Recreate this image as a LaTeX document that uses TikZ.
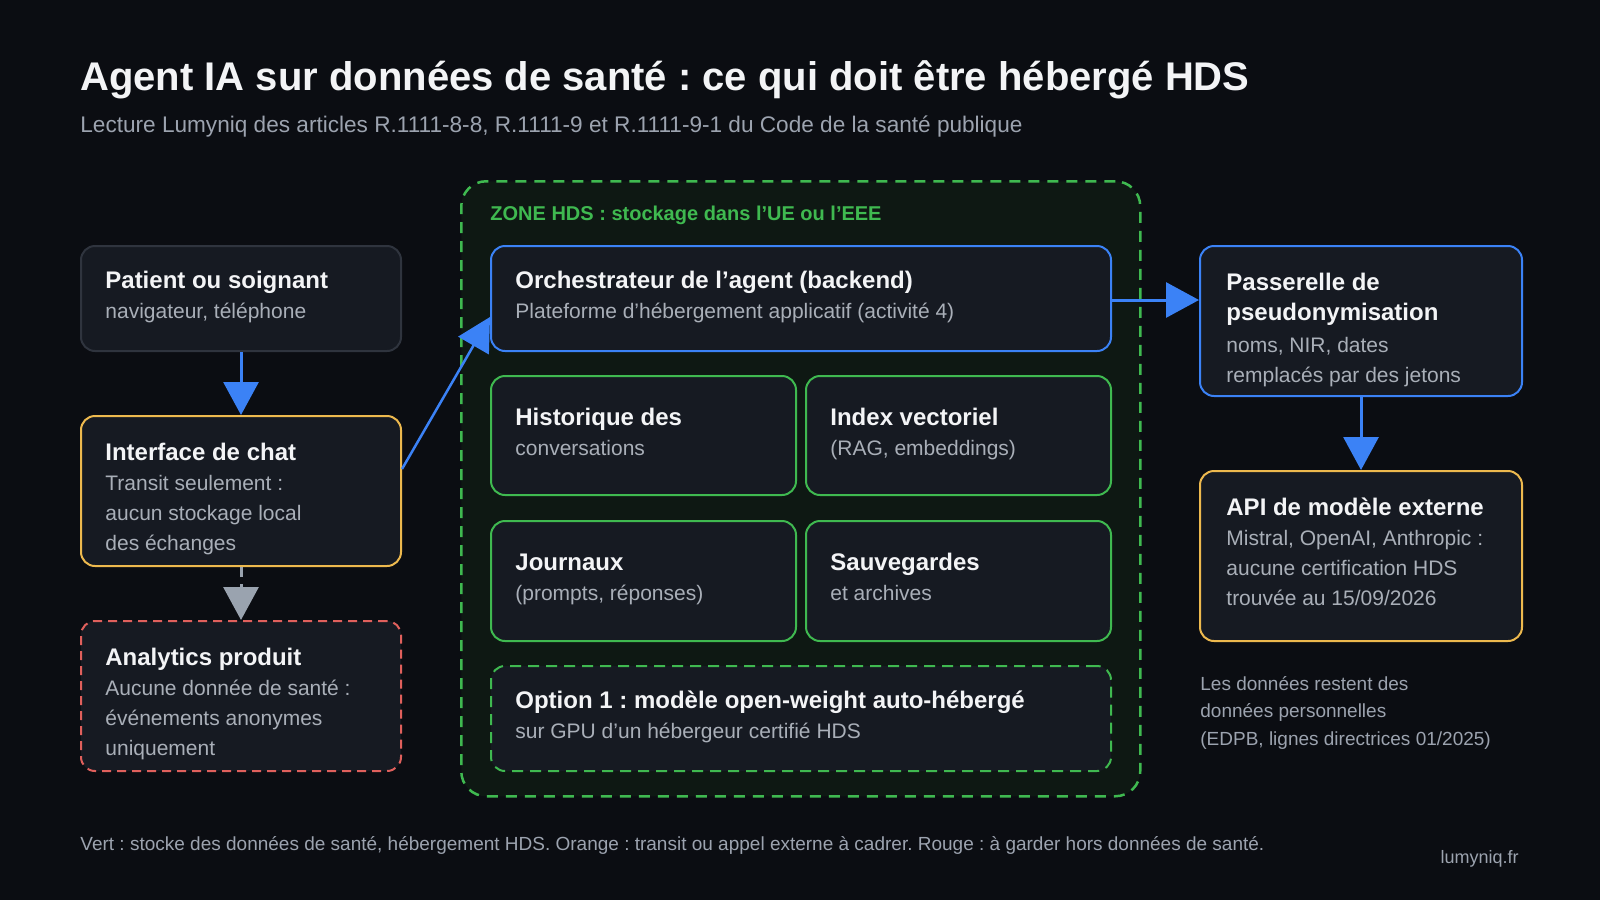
\documentclass[tikz,border=0pt]{standalone}
\usepackage{fontspec}
\setmainfont{Liberation Sans}
\usetikzlibrary{arrows.meta,calc}
\frenchspacing

\definecolor{bg}{HTML}{0B0D12}
\definecolor{boxfill}{HTML}{161A22}
\definecolor{zonefill}{HTML}{0E1813}
\definecolor{blueln}{HTML}{3B82F6}
\definecolor{yellowln}{HTML}{EDB94E}
\definecolor{redln}{HTML}{E0605C}
\definecolor{greenln}{HTML}{3FB950}
\definecolor{grayln}{HTML}{9AA3AF}
\definecolor{graybd}{HTML}{2F343E}
\definecolor{titlecol}{HTML}{F3F4F6}
\definecolor{subcol}{HTML}{A9AFB8}
\definecolor{mutedcol}{HTML}{9CA3AF}

\newcommand{\setfs}[1]{\fontsize{#1pt}{#1pt}\selectfont}

\tikzset{
  x=0.5pt, y=-0.5pt,
  card/.style={draw, line width=1pt, rounded corners=7pt, fill=boxfill,
    anchor=north west, inner sep=0pt},
  ttl/.style={font=\bfseries\setfs{12}, text=titlecol, anchor=base west, inner sep=0pt},
  sub/.style={font=\setfs{10.5}, text=subcol, anchor=base west, inner sep=0pt},
  arr/.style={line width=1.5pt, -{Triangle[length=16.5pt,width=17.5pt]}},
}

\begin{document}
\begin{tikzpicture}
\useasboundingbox (0,0) rectangle (1600,900);
\fill[bg] (0,0) rectangle (1600,900);

% title
\node[font=\bfseries\setfs{20}, text=titlecol, anchor=base west, inner sep=0pt] (title) at (80,90)
  {Agent IA sur données de santé : ce qui doit être hébergé HDS};
\node[font=\setfs{11.3}, text=mutedcol, anchor=base west, inner sep=0pt] (subtitle) at (80,132)
  {Lecture Lumyniq des articles R.1111-8-8, R.1111-9 et R.1111-9-1 du Code de la santé publique};

% zone HDS
\node[draw=greenln, fill=zonefill, line width=1.25pt, dash pattern=on 5.5pt off 4pt,
  rounded corners=12.5pt, anchor=north west, inner sep=0pt,
  minimum width=339.5pt, minimum height=307.5pt] (zone) at (460,180) {};
\node[font=\bfseries\setfs{10}, text=greenln, anchor=base west, inner sep=0pt] (zonelbl) at (490,220)
  {ZONE HDS : stockage dans l’UE ou l’EEE};

% left column
\node[card, draw=graybd, minimum width=160pt, minimum height=52.5pt] (pat) at (80,245) {};
\node[ttl] (pat-t) at ($(pat.north west)+(25,43)$) {Patient ou soignant};
\node[sub] (pat-s) at ($(pat.north west)+(25,73)$) {navigateur, téléphone};

\node[card, draw=yellowln, minimum width=160pt, minimum height=75pt] (chat) at (80,415) {};
\node[ttl] (chat-t) at ($(chat.north west)+(25,45)$) {Interface de chat};
\node[sub] (chat-s1) at ($(chat.north west)+(25,75)$) {Transit seulement :};
\node[sub] (chat-s2) at ($(chat.north west)+(25,105)$) {aucun stockage local};
\node[sub] (chat-s3) at ($(chat.north west)+(25,135)$) {des échanges};

\node[card, draw=redln, dash pattern=on 4.5pt off 3pt, minimum width=160pt, minimum height=75pt] (ana) at (80,620) {};
\node[ttl] (ana-t) at ($(ana.north west)+(25,45)$) {Analytics produit};
\node[sub] (ana-s1) at ($(ana.north west)+(25,75)$) {Aucune donnée de santé :};
\node[sub] (ana-s2) at ($(ana.north west)+(25,105)$) {événements anonymes};
\node[sub] (ana-s3) at ($(ana.north west)+(25,135)$) {uniquement};

% zone contents
\node[card, draw=blueln, minimum width=310pt, minimum height=52.5pt] (orch) at (490,245) {};
\node[ttl] (orch-t) at ($(orch.north west)+(25,43)$) {Orchestrateur de l’agent (backend)};
\node[sub] (orch-s) at ($(orch.north west)+(25,73)$) {Plateforme d’hébergement applicatif (activité 4)};

\node[card, draw=greenln, minimum width=152.5pt, minimum height=59.5pt] (hist) at (490,375) {};
\node[ttl] (hist-t) at ($(hist.north west)+(25,50)$) {Historique des};
\node[sub] (hist-s) at ($(hist.north west)+(25,80)$) {conversations};

\node[card, draw=greenln, minimum width=152.5pt, minimum height=59.5pt] (idx) at (805,375) {};
\node[ttl] (idx-t) at ($(idx.north west)+(25,50)$) {Index vectoriel};
\node[sub] (idx-s) at ($(idx.north west)+(25,80)$) {(RAG, embeddings)};

\node[card, draw=greenln, minimum width=152.5pt, minimum height=60pt] (jour) at (490,520) {};
\node[ttl] (jour-t) at ($(jour.north west)+(25,50)$) {Journaux};
\node[sub] (jour-s) at ($(jour.north west)+(25,80)$) {(prompts, réponses)};

\node[card, draw=greenln, minimum width=152.5pt, minimum height=60pt] (sauv) at (805,520) {};
\node[ttl] (sauv-t) at ($(sauv.north west)+(25,50)$) {Sauvegardes};
\node[sub] (sauv-s) at ($(sauv.north west)+(25,80)$) {et archives};

\node[card, draw=greenln, dash pattern=on 5.5pt off 3.5pt, minimum width=310pt, minimum height=52.5pt] (opt) at (490,665) {};
\node[ttl] (opt-t) at ($(opt.north west)+(25,43)$) {Option 1 : modèle open-weight auto-hébergé};
\node[sub] (opt-s) at ($(opt.north west)+(25,73)$) {sur GPU d’un hébergeur certifié HDS};

% right column
\node[card, draw=blueln, minimum width=161pt, minimum height=75pt] (pass) at (1199,245) {};
\node[ttl] (pass-t1) at ($(pass.north west)+(27,45)$) {Passerelle de};
\node[ttl] (pass-t2) at ($(pass.north west)+(27,75)$) {pseudonymisation};
\node[sub] (pass-s1) at ($(pass.north west)+(27,107)$) {noms, NIR, dates};
\node[sub] (pass-s2) at ($(pass.north west)+(27,137)$) {remplacés par des jetons};

\node[card, draw=yellowln, minimum width=161pt, minimum height=85pt] (api) at (1199,470) {};
\node[ttl] (api-t) at ($(api.north west)+(27,45)$) {API de modèle externe};
\node[sub] (api-s1) at ($(api.north west)+(27,75)$) {Mistral, OpenAI, Anthropic :};
\node[sub] (api-s2) at ($(api.north west)+(27,105)$) {aucune certification HDS};
\node[sub] (api-s3) at ($(api.north west)+(27,135)$) {trouvée au 15/09/2026};

\node[font=\setfs{9.5}, text=mutedcol, anchor=base west, inner sep=0pt] (note1) at (1200,690) {Les données restent des};
\node[font=\setfs{9.5}, text=mutedcol, anchor=base west, inner sep=0pt] (note2) at (1200,717) {données personnelles};
\node[font=\setfs{9.5}, text=mutedcol, anchor=base west, inner sep=0pt] (note3) at (1200,745) {(EDPB, lignes directrices 01/2025)};

% connectors
\draw[arr, blueln] (pat.south) -- (chat.north);
\draw[arr, grayln, dash pattern=on 5pt off 3.5pt] (chat.south) -- (ana.north);
\draw[arr, blueln, line width=1.25pt] ($(chat.north east)+(0,54)$) -- ($(orch.north west)+(0,72)$);
\draw[arr, blueln] ($(orch.north east)+(0,55)$) -- ($(pass.north west)+(0,55)$);
\draw[arr, blueln] (pass.south) -- (api.north);

% footer
\node[font=\setfs{9.5}, text=mutedcol, anchor=base west, inner sep=0pt] (footer) at (80,850)
  {Vert : stocke des données de santé, hébergement HDS. Orange : transit ou appel externe à cadrer. Rouge : à garder hors données de santé.};
\node[font=\setfs{9}, text=mutedcol, anchor=base east, inner sep=0pt] (brand) at (1519,863) {lumyniq.fr};
\end{tikzpicture}
\end{document}
